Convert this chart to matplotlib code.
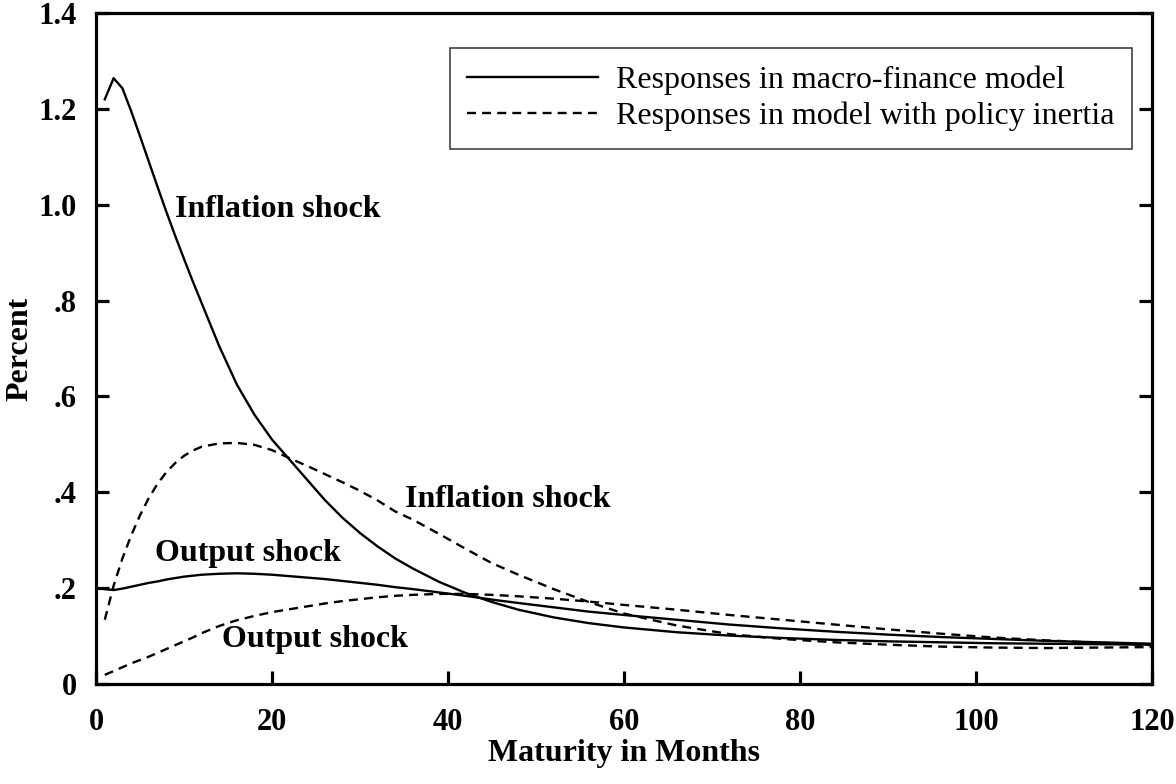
import matplotlib
matplotlib.use("Agg")
import matplotlib.pyplot as plt

# Maturities (months)
maturity = [1, 2, 3, 4, 5, 6, 7, 8, 9, 10, 11, 12,
            14, 16, 18, 20, 22, 24, 26, 28, 30, 32, 34, 36,
            39, 42, 45,
            48, 52, 56, 60, 66, 72, 78, 84, 90, 96, 102, 108, 114, 120]

# Macro-finance model responses
mf_inflation = [1.22, 1.264, 1.243, 1.195, 1.143, 1.09, 1.037, 0.985, 0.935, 0.887, 0.84, 0.795,
                0.705, 0.625, 0.562, 0.51, 0.468, 0.426, 0.384, 0.347, 0.315, 0.287, 0.262, 0.241,
                0.213, 0.19, 0.171,
                0.155, 0.139, 0.127, 0.118, 0.108, 0.101, 0.096, 0.092, 0.089, 0.087, 0.085,
                0.084, 0.083, 0.082]
mf_output = [0.198, 0.196, 0.199, 0.203, 0.207, 0.211, 0.214, 0.218, 0.221, 0.224, 0.226, 0.228,
             0.230, 0.231, 0.230, 0.228, 0.225, 0.222, 0.219, 0.215, 0.211, 0.207, 0.202, 0.198,
             0.191, 0.184, 0.176,
             0.169, 0.160, 0.151, 0.144, 0.134, 0.124, 0.116, 0.109, 0.103, 0.098, 0.094,
             0.090, 0.087, 0.084]

# Model with policy inertia responses
pi_inflation = [0.134, 0.205, 0.262, 0.31, 0.352, 0.388, 0.418, 0.442, 0.461, 0.476, 0.487, 0.495,
                0.502, 0.503, 0.499, 0.488, 0.471, 0.455, 0.438, 0.421, 0.403, 0.383, 0.36, 0.343,
                0.313, 0.282, 0.252,
                0.228, 0.198, 0.171, 0.147, 0.122, 0.104, 0.094, 0.087, 0.082, 0.078, 0.076,
                0.075, 0.076, 0.077]
pi_output = [0.019, 0.027, 0.035, 0.043, 0.05, 0.057, 0.065, 0.073, 0.081, 0.089, 0.097, 0.106,
             0.121, 0.133, 0.142, 0.150, 0.156, 0.162, 0.168, 0.173, 0.177, 0.181, 0.184, 0.186,
             0.188, 0.188, 0.186,
             0.183, 0.178, 0.172, 0.165, 0.155, 0.144, 0.134, 0.124, 0.114, 0.105, 0.097,
             0.091, 0.086, 0.081]

x_ticks = [0, 20, 40, 60, 80, 100, 120]
y_ticks = [0, 0.2, 0.4, 0.6, 0.8, 1.0, 1.2, 1.4]
y_tick_labels = ["0", ".2", ".4", ".6", ".8", "1.0", "1.2", "1.4"]
legend_labels = ["Responses in macro-finance model", "Responses in model with policy inertia"]

serif = "Liberation Serif"
plt.rcParams["font.family"] = [serif, "DejaVu Serif"]

fig = plt.figure(figsize=(11.76, 7.84), dpi=100)
ax = fig.add_axes([96 / 1176, 100 / 784, (1152 - 96) / 1176, (684 - 13) / 784])

lw = 1.7
dash = (0, (3.8, 2.6))
ax.plot(maturity, mf_inflation, color="black", lw=lw, ls="-", label=legend_labels[0])
ax.plot(maturity, pi_inflation, color="black", lw=lw, ls=dash, label=legend_labels[1])
ax.plot(maturity, mf_output, color="black", lw=lw, ls="-")
ax.plot(maturity, pi_output, color="black", lw=lw, ls=dash)

ax.set_xlim(0, 120)
ax.set_ylim(0, 1.4)
ax.set_xticks(x_ticks)
ax.set_xticklabels([str(v) for v in x_ticks])
ax.set_yticks(y_ticks)
ax.set_yticklabels(y_tick_labels)

for s in ax.spines.values():
    s.set_linewidth(2.3)

ax.tick_params(axis="both", direction="in", length=9.5, width=2.3, labelsize=22)
ax.tick_params(axis="y", right=True, pad=14)
ax.tick_params(axis="x", pad=17)
for lab in ax.get_xticklabels() + ax.get_yticklabels():
    lab.set_fontweight("bold")

ax.set_xlabel("Maturity in Months", fontsize=23, fontweight="bold", labelpad=2)
ax.set_ylabel("Percent", fontsize=23, fontweight="bold", labelpad=2.5)

tkw = dict(fontsize=23, fontweight="bold", va="center", ha="left")
ax.text(9.0, 0.99, "Inflation shock", **tkw)
ax.text(35.1, 0.384, "Inflation shock", **tkw)
ax.text(6.7, 0.273, "Output shock", **tkw)
ax.text(14.3, 0.092, "Output shock", **tkw)

leg = ax.legend(loc="upper right", bbox_to_anchor=(1132 / 1176, (784 - 48) / 784),
                bbox_transform=fig.transFigure, fontsize=23, frameon=True, fancybox=False,
                handlelength=4.1, handletextpad=0.55, borderpad=0.55, labelspacing=0.2,
                borderaxespad=0)
leg.get_frame().set_edgecolor("black")
leg.get_frame().set_linewidth(1.1)

fig.savefig("out.png", dpi=100)
